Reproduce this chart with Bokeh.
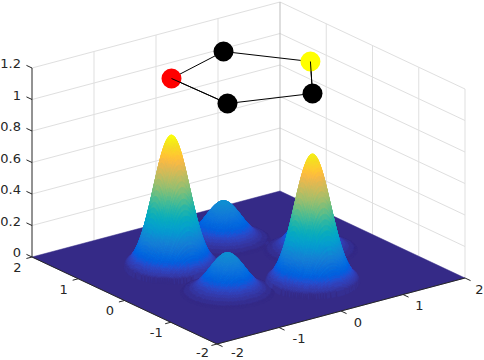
import numpy as np
from bokeh.plotting import figure
from bokeh.embed import file_html
from bokeh.resources import INLINE
from bokeh.core.properties import value
from bokeh.models import Range1d

# ---- data ----
node_x = [1.01, 0.334, -0.793, -0.764, 0.331]
node_y = [0.015, 0.988, 0.602, -0.57, -0.94]
node_z = [1.2, 1.2, 1.2, 1.2, 1.2]
node_color = ["#ffff00", "#000000", "#ff0000", "#000000", "#000000"]
peak_height = [0.25, 0.25, 0.84, 0.25, 0.815]
peak_sigma = 0.232
peak_cutoff = 0.60
xy_ticks = [-2, -1, 0, 1, 2]
z_ticks = [0, 0.2, 0.4, 0.6, 0.8, 1.0, 1.2]
z_labels = ["0", "0.2", "0.4", "0.6", "0.8", "1", "1.2"]

parula = [
 (0.2081,0.1663,0.5292),(0.2116,0.1898,0.5777),(0.2123,0.2138,0.6270),(0.2081,0.2386,0.6771),
 (0.1959,0.2645,0.7279),(0.1707,0.2919,0.7792),(0.1253,0.3242,0.8303),(0.0591,0.3598,0.8683),
 (0.0117,0.3875,0.8820),(0.0060,0.4086,0.8828),(0.0165,0.4266,0.8786),(0.0329,0.4430,0.8720),
 (0.0498,0.4586,0.8641),(0.0629,0.4737,0.8554),(0.0723,0.4887,0.8467),(0.0779,0.5040,0.8384),
 (0.0793,0.5200,0.8312),(0.0749,0.5375,0.8263),(0.0641,0.5570,0.8240),(0.0488,0.5772,0.8228),
 (0.0343,0.5966,0.8199),(0.0265,0.6137,0.8135),(0.0239,0.6287,0.8038),(0.0231,0.6418,0.7913),
 (0.0228,0.6535,0.7768),(0.0267,0.6642,0.7607),(0.0384,0.6743,0.7436),(0.0590,0.6838,0.7254),
 (0.0843,0.6928,0.7062),(0.1133,0.7015,0.6859),(0.1453,0.7098,0.6646),(0.1801,0.7177,0.6424),
 (0.2178,0.7250,0.6193),(0.2586,0.7317,0.5954),(0.3022,0.7376,0.5712),(0.3482,0.7424,0.5473),
 (0.3953,0.7459,0.5244),(0.4420,0.7481,0.5033),(0.4871,0.7491,0.4840),(0.5300,0.7491,0.4661),
 (0.5709,0.7485,0.4494),(0.6099,0.7473,0.4337),(0.6473,0.7456,0.4188),(0.6834,0.7435,0.4044),
 (0.7184,0.7411,0.3905),(0.7525,0.7384,0.3768),(0.7858,0.7356,0.3633),(0.8185,0.7327,0.3498),
 (0.8507,0.7299,0.3360),(0.8824,0.7274,0.3217),(0.9139,0.7258,0.3063),(0.9450,0.7261,0.2886),
 (0.9739,0.7314,0.2666),(0.9938,0.7455,0.2403),(0.9990,0.7653,0.2164),(0.9955,0.7861,0.1967),
 (0.9880,0.8066,0.1794),(0.9789,0.8271,0.1633),(0.9697,0.8481,0.1475),(0.9626,0.8705,0.1309),
 (0.9589,0.8949,0.1132),(0.9598,0.9218,0.0948),(0.9661,0.9514,0.0755),(0.9763,0.9831,0.0538)]
palette = ["#%02x%02x%02x" % tuple(int(round(c * 255)) for c in rgb) for rgb in parula]

# ---- orthographic view of the 3-D axes ----
O = np.array([248.0, 267.0])
EX = np.array([62.0, -16.5])
EY = np.array([-46.25, -21.75])
EZ = np.array([0.0, -157.5])


def proj(x, y, z):
    x, y, z = np.asarray(x, float), np.asarray(y, float), np.asarray(z, float)
    return (O[0] + x * EX[0] + y * EY[0] + z * EZ[0],
            O[1] + x * EX[1] + y * EY[1] + z * EZ[1])


p = figure(width=484, height=360, output_backend="svg", toolbar_location=None,
           x_range=Range1d(0, 484), y_range=Range1d(360, 0),
           x_axis_type=None, y_axis_type=None, min_border=0, outline_line_color=None)
p.grid.visible = False

# ---- walls ----
GRID = "#dfdfdf"
gx, gy = [], []
for zt in z_ticks[1:]:
    a, b = proj([-2, 2, 2], [2, 2, -2], [zt, zt, zt])
    gx.append(list(a)); gy.append(list(b))
for t in xy_ticks[1:-1]:
    a, b = proj([t, t], [2, 2], [0, 1.2]); gx.append(list(a)); gy.append(list(b))
    a, b = proj([2, 2], [t, t], [0, 1.2]); gx.append(list(a)); gy.append(list(b))
a, b = proj([2, 2], [-2, -2], [0, 1.2]); gx.append(list(a)); gy.append(list(b))
p.multi_line(gx, gy, line_color=GRID, line_width=1)
a, b = proj([2, 2], [2, 2], [0, 1.2])
p.line(a, b, line_color="#bdbdbd", line_width=1)

# ---- surface ----
a, b = proj([-2, 2, 2, -2], [-2, -2, 2, 2], [0, 0, 0, 0])
p.patch(a, b, fill_color=palette[0], line_color=palette[0], line_width=0.5)

grid = np.linspace(-2, 2, 251)
X, Y = np.meshgrid(grid, grid, indexing="ij")
Z = np.zeros_like(X)
for nx, ny, h in zip(node_x, node_y, peak_height):
    r2 = (X - nx) ** 2 + (Y - ny) ** 2
    Z += np.where(r2 < peak_cutoff ** 2, h * np.exp(-r2 / (2 * peak_sigma ** 2)), 0.0)
zmax = Z.max()
qx, qy, qc = [], [], []
for i in range(len(grid) - 2, -1, -1):
    for j in range(len(grid) - 2, -1, -1):
        zs = [Z[i, j], Z[i + 1, j], Z[i + 1, j + 1], Z[i, j + 1]]
        if max(zs) <= 0:
            continue
        a, b = proj([X[i, j], X[i + 1, j], X[i + 1, j + 1], X[i, j + 1]],
                    [Y[i, j], Y[i + 1, j], Y[i + 1, j + 1], Y[i, j + 1]], zs)
        qx.append(np.round(a, 2).tolist()); qy.append(np.round(b, 2).tolist())
        qc.append(palette[min(63, int(np.mean(zs) / zmax * 64))])
p.patches(qx, qy, fill_color=qc, line_color=qc, line_width=0.5)

# ---- axes ----
AX = "#262626"
a, b = proj([-2, -2, 2], [2, -2, -2], [0, 0, 0])
p.line(a, b, line_color=AX, line_width=1)
a, b = proj([-2, -2], [2, 2], [0, 1.2])
p.line(a, b, line_color=AX, line_width=1)
tx, ty = [], []
for t in xy_ticks:
    a, b = proj([t, t], [-2, -2.12], [0, 0]); tx.append(list(a)); ty.append(list(b))
    a, b = proj([-2, -2.09], [t, t], [0, 0]); tx.append(list(a)); ty.append(list(b))
for zt in z_ticks:
    a, b = proj([-2, -2], [2, 2.12], [zt, zt]); tx.append(list(a)); ty.append(list(b))
p.multi_line(tx, ty, line_color=AX, line_width=1)

font = dict(text_font=value("DejaVu Sans"), text_font_size="13px", text_color=AX)
a, b = proj([-2] * len(z_ticks), [2] * len(z_ticks), z_ticks)
p.text(a - 11, b - 4.5, text=z_labels, text_align="right", text_baseline="middle", **font)
a, b = proj([-2] * 5, xy_ticks, [0] * 5)
p.text(a - 14.5, b + np.array([8, 10.3, 10.3, 10.3, 10.3]), text=[str(t) for t in xy_ticks],
       text_align="center", text_baseline="middle", **font)
a, b = proj(xy_ticks, [-2] * 5, [0] * 5)
p.text(a + np.array([20.5, 20, 17, 16.5, 14.5]), b + np.array([8.5, 11, 11, 11, 11]),
       text=[str(t) for t in xy_ticks], text_align="center", text_baseline="middle", **font)

# ---- ring of nodes ----
a, b = proj(node_x + node_x[:1], node_y + node_y[:1], node_z + node_z[:1])
p.line(a, b, line_color="black", line_width=1)
a, b = proj(node_x, node_y, node_z)
p.scatter(a, b, size=20, fill_color=node_color, line_color=None)
p.line([a[2], a[3]], [b[2], b[3]], line_color="black", line_width=1)
p.line([a[0], a[4]], [b[0], b[4]], line_color="black", line_width=1)

open("out.html", "w").write(file_html(p, INLINE))
